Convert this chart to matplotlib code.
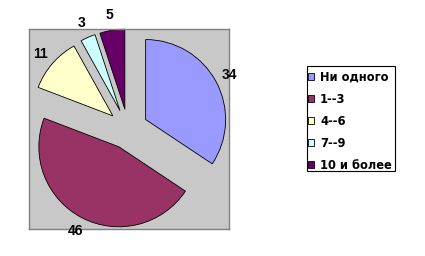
import matplotlib
matplotlib.use("Agg")
import matplotlib.pyplot as plt
from matplotlib.patches import Rectangle

categories = ["Ни одного", "1--3", "4--6", "7--9", "10 и более"]
values = [34, 46, 11, 3, 5]
colors = ["#9999FF", "#993366", "#FFFFCC", "#CCFFFF", "#660066"]

W, H = 425, 256
fig = plt.figure(figsize=(W / 100, H / 100), dpi=100)
fig.patch.set_facecolor("white")

# plot area (gray box) in pixel coordinates
x0, y0, x1, y1 = 29, 29, 229, 229
ax = fig.add_axes([x0 / W, 1 - y1 / H, (x1 - x0) / W, (y1 - y0) / H])

wedges, texts = ax.pie(
    values,
    colors=colors,
    labels=[str(v) for v in values],
    explode=[20] * len(values),
    startangle=90,
    counterclock=False,
    center=(128, H - 129),
    radius=80,
    labeldistance=1.19,
    wedgeprops=dict(edgecolor="black", linewidth=0.6),
    textprops=dict(fontsize=10, fontweight="bold", family="Liberation Sans",
                   ha="center", va="center", color="black"),
    frame=True,
)
ax.set_xlim(x0, x1)
ax.set_ylim(H - y1, H - y0)
ax.set_aspect("auto")
ax.set_facecolor("#C8C8C8")
ax.set_xticks([])
ax.set_yticks([])
for s in ax.spines.values():
    s.set_edgecolor("#808080")
    s.set_linewidth(1.0)
for t in texts:
    t.set_clip_on(False)

# legend box
lx0, ly0, lx1, ly1 = 307, 66, 395, 171
fig.patches.append(Rectangle((lx0 / W, 1 - ly1 / H), (lx1 - lx0) / W, (ly1 - ly0) / H,
                             transform=fig.transFigure, facecolor="white",
                             edgecolor="black", linewidth=0.8, zorder=0))
leg = fig.legend(
    wedges, categories,
    loc="center left",
    bbox_to_anchor=(308 / W, 1 - 121.5 / H),
    frameon=False,
    borderpad=0,
    borderaxespad=0,
    handlelength=0.55,
    handleheight=0.55,
    handletextpad=0.5,
    labelspacing=0.78,
    prop=dict(family="DejaVu Sans", weight="bold", size=8.3),
)

fig.savefig("out.png", dpi=100)
